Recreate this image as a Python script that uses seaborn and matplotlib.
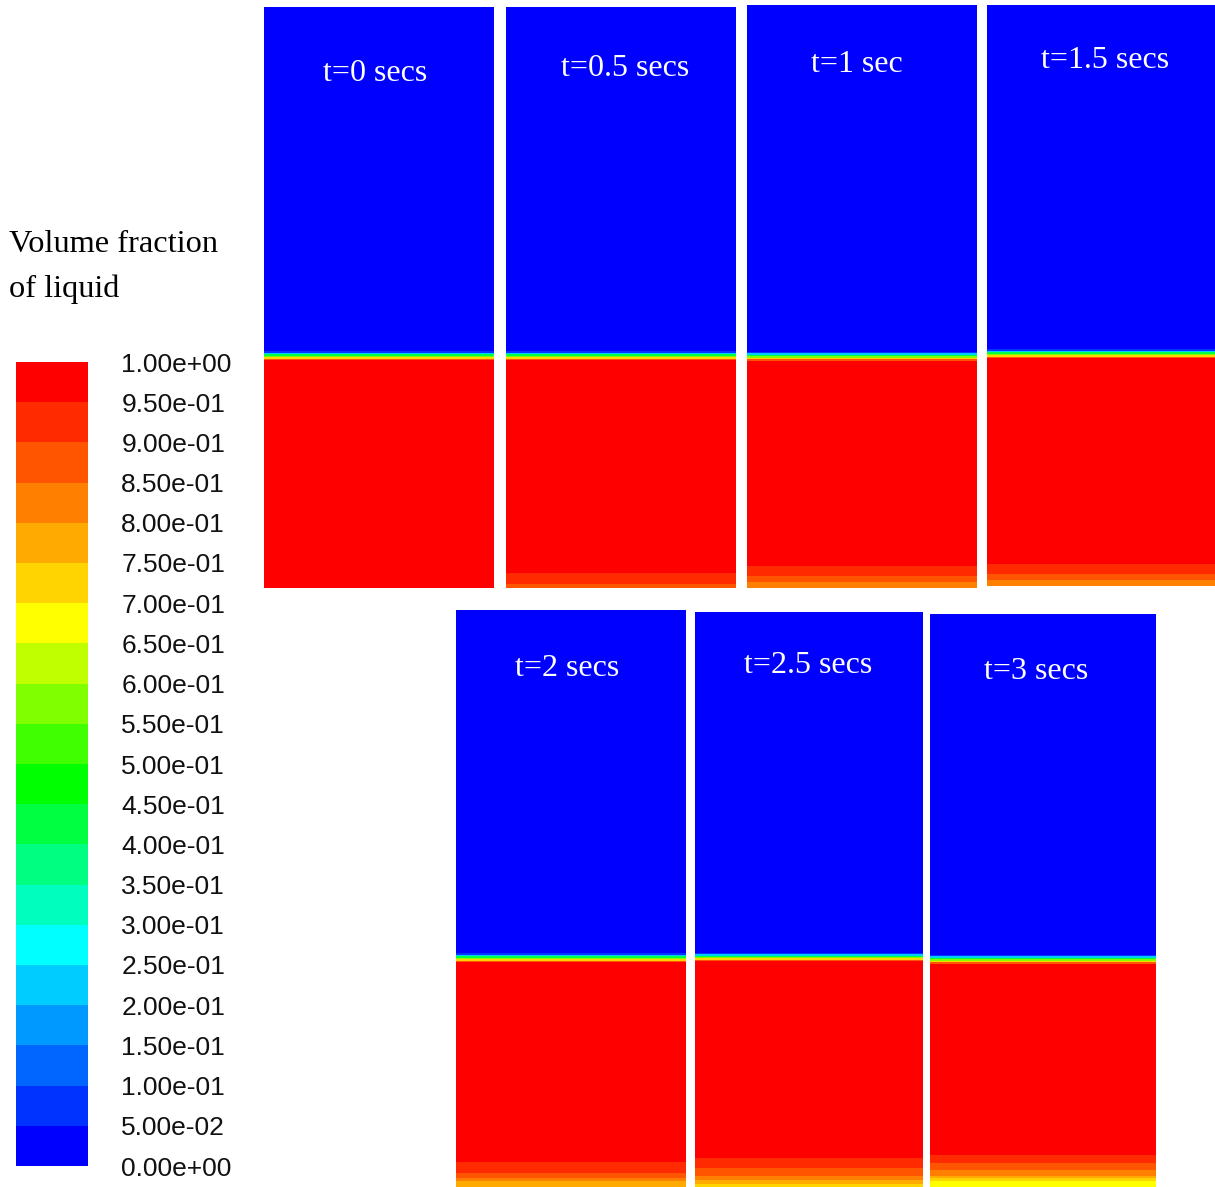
import numpy as np
import pandas as pd
import matplotlib
matplotlib.use("Agg")
import matplotlib.pyplot as plt
from matplotlib.colors import ListedColormap
import seaborn as sns

# ---- data -------------------------------------------------------------
times = ["t=0 secs", "t=0.5 secs", "t=1 sec", "t=1.5 secs",
         "t=2 secs", "t=2.5 secs", "t=3 secs"]

# free-surface level, fraction of column height measured from the bottom
surface_level = [0.399, 0.399, 0.396, 0.398, 0.397, 0.398, 0.396]

# liquid volume fraction across the free-surface cells (gas side -> liquid side)
surface_vf = [0.08, 0.22, 0.40, 0.55, 0.72, 0.88]

# settled layers at the bottom: (top of layer as fraction of height, volume fraction), bottom-up
bottom_t0 = []
bottom_t05 = [(0.007, 0.88), (0.024, 0.93)]
bottom_t1 = [(0.009, 0.83), (0.019, 0.88), (0.038, 0.93)]
bottom_t15 = [(0.010, 0.83), (0.019, 0.88), (0.038, 0.93)]
bottom_t2 = [(0.009, 0.78), (0.016, 0.83), (0.026, 0.88), (0.042, 0.93)]
bottom_t25 = [(0.005, 0.73), (0.012, 0.78), (0.021, 0.83), (0.033, 0.88), (0.050, 0.93)]
bottom_t3 = [(0.009, 0.68), (0.014, 0.73), (0.021, 0.78), (0.029, 0.83),
             (0.042, 0.88), (0.055, 0.93)]
bottom_layers = [bottom_t0, bottom_t05, bottom_t1, bottom_t15,
                 bottom_t2, bottom_t25, bottom_t3]

# contour levels of the legend
levels = np.round(np.arange(0, 1.0001, 0.05), 2)
band_colors = ["#0000ff", "#0033ff", "#0066ff", "#0099ff", "#00ccff",
               "#00ffff", "#00ffbf", "#00ff80", "#00ff40", "#00ff00",
               "#40ff00", "#80ff00", "#c0ff00", "#ffff00", "#ffd400",
               "#ffaa00", "#ff7f00", "#ff5500", "#ff2a00", "#ff0000"]
cmap = ListedColormap(band_colors)

# ---- build the vertical fields ------------------------------------------
NZ = 400          # cells over the column height
NX = 4            # cells across the column
z = (np.arange(NZ)[::-1] + 0.5) / NZ   # cell-centre heights, top row first


def column_field(level, layers):
    vf = np.where(z < level, 0.99, 0.01)
    # smeared interface cells around the liquid level
    k0 = int(np.argmin(np.abs(z - level)))
    n = len(surface_vf)
    for i, v in enumerate(surface_vf):
        vf[k0 - n // 2 + i] = v
    for top, v in reversed(layers):
        vf[z < top] = v
    return pd.DataFrame(np.repeat(vf[:, None], NX, axis=1))


W, H = 1215, 1187


def rect(x0, y0, x1, y1):
    return [x0 / W, 1 - y1 / H, (x1 - x0) / W, (y1 - y0) / H]


panel_px = [(264, 7, 494, 588), (506, 7, 736, 588), (747, 5, 977, 588),
            (987, 5, 1215, 586), (456, 610, 686, 1187), (695, 612, 923, 1187),
            (930, 614, 1156, 1187)]
title_pos = [(0.483, 0.886), (0.517, 0.894), (0.478, 0.898), (0.518, 0.904),
             (0.483, 0.899), (0.496, 0.907), (0.469, 0.900)]

fig = plt.figure(figsize=(W / 100, H / 100), dpi=100)
fig.patch.set_facecolor("white")

cax = fig.add_axes(rect(16, 362, 88, 1166))

for i, (px, label) in enumerate(zip(panel_px, times)):
    ax = fig.add_axes(rect(*px))
    field = column_field(surface_level[i], bottom_layers[i])
    sns.heatmap(field, ax=ax, cmap=cmap, vmin=0, vmax=1,
                cbar=(i == 0), cbar_ax=cax if i == 0 else None,
                cbar_kws={"ticks": levels} if i == 0 else None,
                xticklabels=False, yticklabels=False, linewidths=0,
                rasterized=True)
    ax.set_axis_off()
    tx, ty = title_pos[i]
    ax.text(tx, ty, label, transform=ax.transAxes, ha="center", va="center",
            color="white", fontsize=23, family="Liberation Serif")

cbar = cax.collections[0].colorbar if cax.collections else None
cax.set_yticks(levels)
cax.set_yticklabels([f"{v:.2e}" for v in levels], family="Liberation Sans",
                    fontsize=19, color="#111111")
cax.tick_params(axis="y", length=0, pad=24)
for sp in cax.spines.values():
    sp.set_visible(False)
if cbar is not None:
    cbar.outline.set_visible(False)

fig.text(9 / W, 1 - 244 / H, "Volume fraction", ha="left", va="center",
         fontsize=23.3, family="Liberation Serif", color="black")
fig.text(9 / W, 1 - 289 / H, "of liquid", ha="left", va="center",
         fontsize=23.3, family="Liberation Serif", color="black")

fig.savefig("out.png", dpi=100, facecolor="white")
